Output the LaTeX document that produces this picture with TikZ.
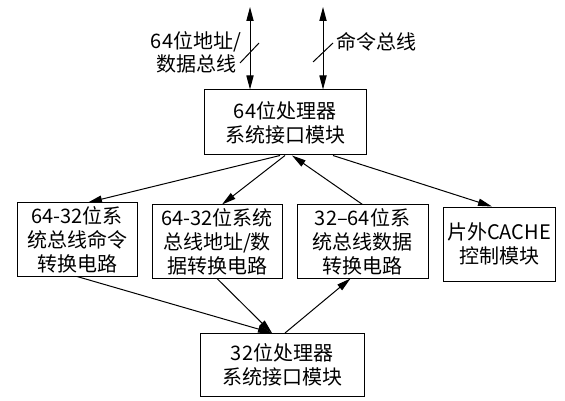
\documentclass[tikz,border=0pt]{standalone}
\usepackage{fontspec}
\setmainfont{Noto Sans CJK SC}
\usepackage{tikz}
\usetikzlibrary{
  arrows.meta,
  calc
}

\begin{document}
\begin{tikzpicture}[x=0.5pt,y=-0.5pt,
			blk/.style={draw, line width=0.5pt, align=center, inner sep=0pt,
				font=\fontsize{10}{12}\selectfont},
			lbl/.style={align=center, inner sep=0pt, font=\fontsize{10}{11.5}\selectfont},
			arr/.style={line width=0.5pt, -{Triangle[length=7pt,width=3.6pt]}},
			bus/.style={line width=0.5pt, {Triangle[length=7pt,width=3.6pt]}-{Triangle[length=7pt,width=3.6pt]}}
			]
			\useasboundingbox (0,0) rectangle (565,400);
			% 64-bit side
			\node[blk, minimum width=81pt, minimum height=32.5pt] (top) at (285,122.5)
			{64位处理器\\系统接口模块};
			\coordinate (adb) at (250,7);
			\coordinate (cmd) at (323,7);
			\draw[bus] (adb) -- (adb |- top.north);
			\draw[bus] (cmd) -- (cmd |- top.north);
			\draw[line width=0.5pt] (240,63) -- (259,43);
			\draw[line width=0.5pt] (313,62) -- (333,43);
			\node[lbl] (adbl) at (196,52) {64位地址/\\数据总线};
			\node[lbl] (cmdl) at (376,42) {命令总线};
			% conversion circuits
			\node[blk, minimum width=60pt, minimum height=36.5pt] (b1) at (77,239.5)
			{64-32位系\\统总线命令\\转换电路};
			\node[blk, minimum width=65pt, minimum height=36.5pt] (b2) at (217,241.5)
			{64-32位系统\\总线地址/数\\据转换电路};
			\node[blk, minimum width=65.5pt, minimum height=36.5pt] (b3) at (362.5,241.5)
			{32–64位系\\统总线数据\\转换电路};
			\node[blk, minimum width=56pt, minimum height=37pt] (b4) at (499,244)
			{片外CACHE\\控制模块};
			\draw[arr] ($(top.south)+(-5,0)$) -- ($(b1.north)+(11,0)$);
			\draw[arr] (top.south) -- ($(b2.north)+(5,0)$);
			\draw[arr] (b3.north) -- ($(top.south)+(7,0)$);
			\draw[arr] ($(top.south)+(48,0)$) -- ($(b4.north)+(-7,0)$);
			% 32-bit side
			\node[blk, minimum width=82pt, minimum height=31.5pt] (bot) at (282,365)
			{32位处理器\\系统接口模块};
			\draw[arr] (b1.south) -- ($(bot.north)+(-10,0)$);
			\draw[arr] (b2.south) -- ($(bot.north)+(-10,0)$);
			\draw[arr] ($(bot.north)+(3,0)$) -- ($(b3.south)+(-12,0)$);
	\end{tikzpicture}
\end{document}
